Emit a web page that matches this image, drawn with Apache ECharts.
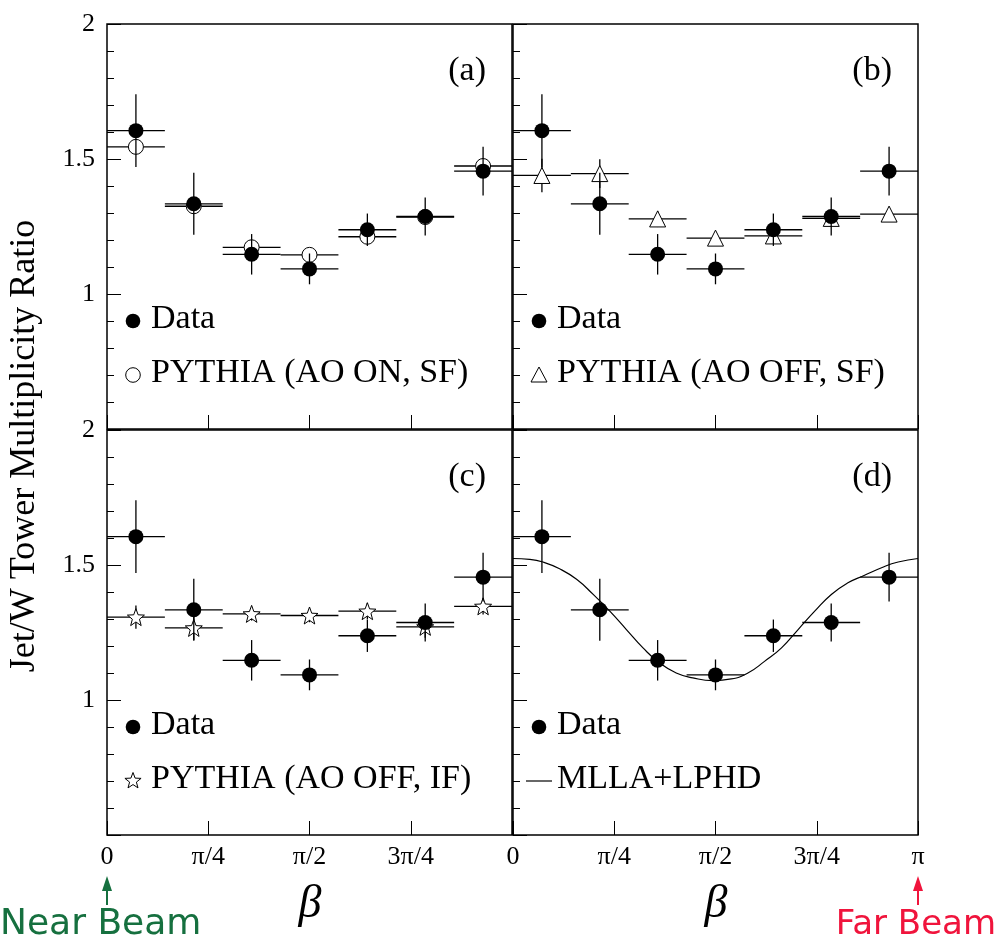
<!DOCTYPE html>
<html><head><meta charset="utf-8">
<script src="https://cdn.jsdelivr.net/npm/echarts@6/dist/echarts.min.js"></script>
<style>html,body{margin:0;padding:0;background:#fff}#c{width:997px;height:944px}</style>
</head><body><div id="c"></div>
<script>
// ---- data (β in units of π) ----
const binCenters = [0.0714, 0.2143, 0.3571, 0.5, 0.6429, 0.7857, 0.9286];
const binLow     = [0, 0.1429, 0.2857, 0.4286, 0.5714, 0.7143, 0.8571];
const binHigh    = [0.1429, 0.2857, 0.4286, 0.5714, 0.7143, 0.8571, 1];
const dataY      = [1.605, 1.334, 1.147, 1.093, 1.238, 1.287, 1.455];
const dataErr    = [0.135, 0.115, 0.075, 0.057, 0.060, 0.070, 0.090];
const aoOnSF     = [1.545, 1.325, 1.173, 1.145, 1.212, 1.285, 1.474];
const aoOnSFErr  = [0.02, 0.02, 0.02, 0.02, 0.02, 0.02, 0.02];
const aoOffSF    = [1.439, 1.446, 1.278, 1.207, 1.215, 1.280, 1.296];
const aoOffSFErr = [0.062, 0.053, 0.030, 0.015, 0.030, 0.030, 0.020];
const aoOffIF    = [1.307, 1.267, 1.319, 1.313, 1.329, 1.271, 1.347];
const aoOffIFErr = [0.043, 0.045, 0.025, 0.025, 0.030, 0.040, 0.030];
const curveX = [0, 0.041, 0.074, 0.115, 0.157, 0.198, 0.239, 0.28, 0.321, 0.362, 0.403, 0.444, 0.494,
                0.539, 0.58, 0.621, 0.663, 0.704, 0.745, 0.786, 0.827, 0.868, 0.91, 0.951, 1.0];
const curveY = [1.524, 1.521, 1.511, 1.486, 1.447, 1.391, 1.329, 1.261, 1.193, 1.137, 1.100, 1.082, 1.072,
                1.078, 1.100, 1.143, 1.193, 1.261, 1.329, 1.391, 1.434, 1.462, 1.490, 1.511, 1.524];
const xTickLabels = {0: '0', 0.25: 'π/4', 0.5: 'π/2', 0.75: '3π/4', 1: 'π'};
const yTickLabels = {1: '1', 1.5: '1.5', 2: '2'};
const panelLabels = ['(a)', '(b)', '(c)', '(d)'];
const legendNames = [['Data', 'PYTHIA (AO ON, SF)'], ['Data', 'PYTHIA (AO OFF, SF)'],
                     ['Data', 'PYTHIA (AO OFF, IF)'], ['Data', 'MLLA+LPHD']];

const SERIF = "'Liberation Serif', 'Times New Roman', serif";
const chart = echarts.init(document.getElementById('c'), null, {renderer: 'canvas'});

const G = [
  {left: 107, top: 24, width: 405, height: 405},
  {left: 513, top: 24, width: 405, height: 405},
  {left: 107, top: 430, width: 405, height: 405},
  {left: 513, top: 430, width: 405, height: 405}
];

function rows(vals, errs) {
  return binCenters.map((c, i) => [c, vals[i], binLow[i], binHigh[i], errs[i]]);
}
function errRender(params, api) {
  const x = api.value(0), y = api.value(1), xl = api.value(2), xh = api.value(3), e = api.value(4);
  const a = api.coord([xl, y]), b = api.coord([xh, y]);
  const c = api.coord([x, y - e]), d = api.coord([x, y + e]);
  const st = {stroke: '#000', lineWidth: 1.3};
  return {type: 'group', children: [
    {type: 'line', shape: {x1: a[0], y1: a[1], x2: b[0], y2: b[1]}, style: st},
    {type: 'line', shape: {x1: c[0], y1: c[1], x2: d[0], y2: d[1]}, style: st}
  ]};
}
function starPoints(cx, cy, R) {
  const pts = [];
  for (let i = 0; i < 10; i++) {
    const r = (i % 2 ? 0.42 : 1) * R;
    const a = -Math.PI / 2 + i * Math.PI / 5;
    pts.push([cx + r * Math.cos(a), cy + r * Math.sin(a)]);
  }
  return pts;
}
const STAR = 'path://' + starPoints(0, 0, 1).map((p, i) => (i ? 'L' : 'M') + p[0].toFixed(4) + ',' + p[1].toFixed(4)).join(' ') + ' Z';

const xAxes = G.map((g, i) => ({
  type: 'value', gridIndex: i, min: 0, max: 1, interval: 0.25,
  axisLine: {show: false},
  axisTick: {show: true, inside: true, length: 14, lineStyle: {color: '#000', width: 1}},
  splitLine: {show: false},
  axisLabel: {
    show: i >= 2, margin: 9, fontSize: 26, fontFamily: SERIF, color: '#000',
    formatter: v => (i === 2 && v === 1) ? '' : (xTickLabels[v] || '')
  }
}));
const yAxes = G.map((g, i) => ({
  type: 'value', gridIndex: i, min: 0.5, max: 2, interval: 0.5,
  axisLine: {show: false},
  axisTick: {show: true, inside: true, length: 14, lineStyle: {color: '#000', width: 1}},
  minorTick: {show: true, splitNumber: 5, length: 7, lineStyle: {color: '#000', width: 1}},
  splitLine: {show: false}, minorSplitLine: {show: false},
  axisLabel: {
    show: i % 2 === 0, margin: 12, fontSize: 26, fontFamily: SERIF, color: '#000',
    formatter: v => yTickLabels[v] || ''
  }
}));

const models = [
  {name: legendNames[0][1], vals: aoOnSF, errs: aoOnSFErr, symbol: 'circle', size: 15},
  {name: legendNames[1][1], vals: aoOffSF, errs: aoOffSFErr, symbol: 'triangle', size: 16},
  {name: legendNames[2][1], vals: aoOffIF, errs: aoOffIFErr, symbol: STAR, size: 17}
];

const series = [];
models.forEach((m, i) => {
  series.push({type: 'custom', name: m.name, xAxisIndex: i, yAxisIndex: i, renderItem: errRender,
    data: rows(m.vals, m.errs), z: 2, clip: false});
  series.push({type: 'scatter', name: m.name, xAxisIndex: i, yAxisIndex: i, symbol: m.symbol, symbolSize: m.size,
    itemStyle: {color: '#fff', borderColor: '#000', borderWidth: 1, opacity: 1},
    data: binCenters.map((c, k) => [c, m.vals[k]]), z: 3});
});
series.push({type: 'line', name: legendNames[3][1], xAxisIndex: 3, yAxisIndex: 3, smooth: true, showSymbol: false,
  lineStyle: {color: '#000', width: 1.2}, data: curveX.map((x, k) => [x, curveY[k]]), z: 2});
for (let i = 0; i < 4; i++) {
  series.push({type: 'custom', name: 'Data', xAxisIndex: i, yAxisIndex: i, renderItem: errRender,
    data: rows(dataY, dataErr), z: 4, clip: false});
  series.push({type: 'scatter', name: 'Data', xAxisIndex: i, yAxisIndex: i, symbol: 'circle', symbolSize: 15,
    itemStyle: {color: '#000', opacity: 1}, data: binCenters.map((c, k) => [c, dataY[k]]), z: 5});
}

// ---- graphic text, legends, annotations ----
const graphic = [];
G.forEach((g, i) => {
  graphic.push({type: 'text', x: g.left + g.width - 26, y: g.top + 47,
    style: {text: panelLabels[i], font: '34px ' + SERIF, fill: '#000', align: 'right', verticalAlign: 'middle'}});
  const mx = g.left + 26, tx = g.left + 44;
  const y1 = g.top + 297, y2 = g.top + 351;
  graphic.push({type: 'circle', shape: {cx: mx, cy: y1, r: 7.3}, style: {fill: '#000'}});
  graphic.push({type: 'text', x: tx, y: y1 - 2, style: {text: legendNames[i][0], font: '34px ' + SERIF, fill: '#000', verticalAlign: 'middle'}});
  if (i === 0) graphic.push({type: 'circle', shape: {cx: mx, cy: y2, r: 7.3}, style: {fill: '#fff', stroke: '#000', lineWidth: 1}});
  if (i === 1) graphic.push({type: 'polygon', shape: {points: [[mx, y2 - 8], [mx + 8, y2 + 7], [mx - 8, y2 + 7]]}, style: {fill: '#fff', stroke: '#000', lineWidth: 1}});
  if (i === 2) graphic.push({type: 'polygon', shape: {points: starPoints(mx, y2, 8.5)}, style: {fill: '#fff', stroke: '#000', lineWidth: 1}});
  if (i === 3) graphic.push({type: 'line', shape: {x1: mx - 13, y1: y2, x2: mx + 13, y2: y2}, style: {stroke: '#000', lineWidth: 1.2}});
  graphic.push({type: 'text', x: tx, y: y2 - 2, style: {text: legendNames[i][1], font: '34px ' + SERIF, fill: '#000', verticalAlign: 'middle'}});
});
graphic.push({type: 'text', x: 25, y: 446, rotation: Math.PI / 2,
  style: {text: 'Jet/W Tower Multiplicity Ratio', font: '36px ' + SERIF, fill: '#000', align: 'center', verticalAlign: 'middle'}});
[310, 716].forEach(x => graphic.push({type: 'text', x: x, y: 905,
  style: {text: 'β', font: 'italic 46px ' + SERIF, fill: '#000', align: 'center', verticalAlign: 'middle'}}));
function arrow(x, color) {
  graphic.push({type: 'line', shape: {x1: x, y1: 888, x2: x, y2: 905}, style: {stroke: color, lineWidth: 2}});
  graphic.push({type: 'polygon', shape: {points: [[x, 876], [x + 5, 891], [x - 5, 891]]}, style: {fill: color}});
}
arrow(107, '#16703f');
arrow(918, '#f0143c');
graphic.push({type: 'text', x: 0, y: 925, style: {text: 'Near Beam', font: "36px 'DejaVu Sans', sans-serif", fill: '#16703f', verticalAlign: 'middle'}});
graphic.push({type: 'text', x: 996, y: 925, style: {text: 'Far Beam', font: "34px 'DejaVu Sans', sans-serif", fill: '#f0143c', align: 'right', verticalAlign: 'middle'}});

chart.setOption({
  animation: false,
  backgroundColor: '#fff',
  grid: G.map(g => Object.assign({show: true, borderColor: '#000', borderWidth: 1.5, containLabel: false}, g)),
  xAxis: xAxes,
  yAxis: yAxes,
  series: series,
  graphic: graphic
});
</script></body></html>
